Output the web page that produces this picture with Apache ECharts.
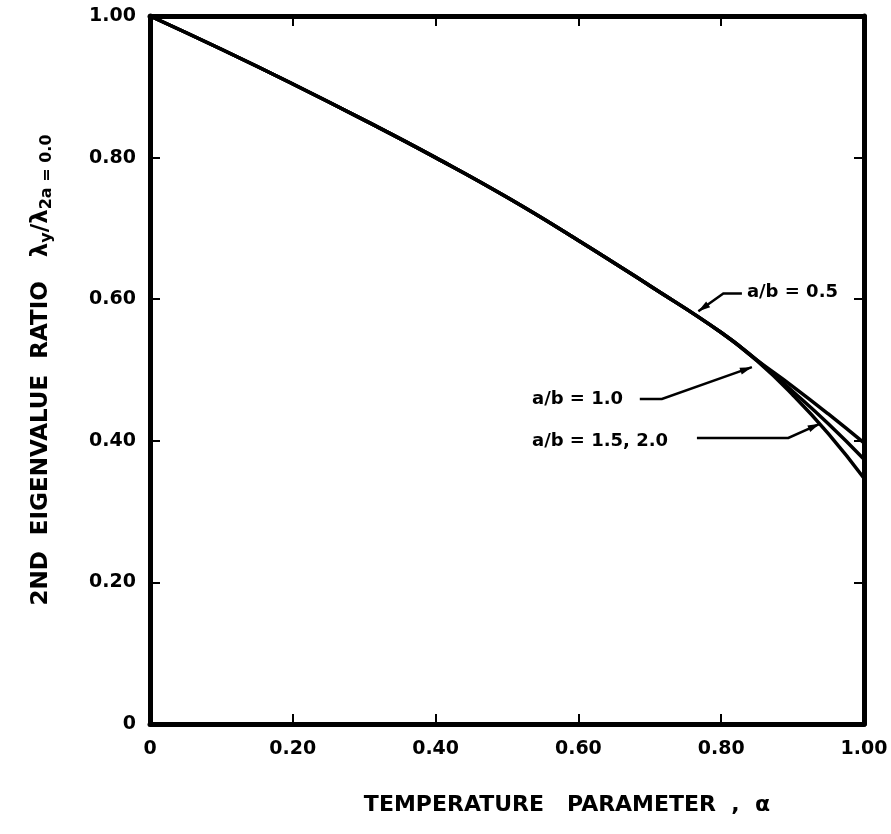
<!DOCTYPE html>
<html lang="en">
<head>
    <meta charset="utf-8">
    <script src="https://cdn.jsdelivr.net/npm/echarts@6/dist/echarts.min.js"></script>
    <style>
        html, body { margin: 0; padding: 0; background: #fff; }
        #main { width: 891px; height: 834px; }
    </style>
</head>
<body>
<div id="main"></div>
<script>
    // temperature parameter a
    var aValues = [0, 0.1, 0.2, 0.3, 0.4, 0.5, 0.6, 0.7, 0.8, 0.85, 0.9, 0.95, 1.0];
    // 2nd eigenvalue ratio for each a/b
    var ratio05 = [1.0, 0.953, 0.904, 0.853, 0.800, 0.744, 0.683, 0.619, 0.553, 0.514, 0.477, 0.438, 0.397];
    var ratio10 = [1.0, 0.953, 0.904, 0.853, 0.800, 0.744, 0.683, 0.619, 0.553, 0.514, 0.470, 0.424, 0.374];
    var ratio15 = [1.0, 0.953, 0.904, 0.853, 0.800, 0.744, 0.683, 0.619, 0.553, 0.513, 0.465, 0.410, 0.347];

    var seriesNames = ['a/b = 0.5', 'a/b = 1.0', 'a/b = 1.5, 2.0'];
    var seriesData = [ratio05, ratio10, ratio15];

    // note labels: text start + leader line (in data coords)
    var notes = [
        { text: 'a/b = 0.5',      at: [0.836, 0.609], leader: [[0.829, 0.608], [0.803, 0.608], [0.768, 0.583]] },
        { text: 'a/b = 1.0',      at: [0.535, 0.459], leader: [[0.686, 0.459], [0.717, 0.459], [0.843, 0.504]] },
        { text: 'a/b = 1.5, 2.0', at: [0.535, 0.399], leader: [[0.766, 0.404], [0.894, 0.404], [0.938, 0.424]] }
    ];

    var FONT = 'DejaVu Sans';

    function tickLabel(v) {
        return v === 0 ? '0' : v.toFixed(2);
    }

    var chart = echarts.init(document.getElementById('main'));

    var baseAxis = {
        type: 'value',
        min: 0,
        max: 1,
        interval: 0.2,
        splitLine: { show: false },
        axisLine: { show: true, onZero: false, lineStyle: { color: '#000', width: 5 } },
        axisTick: { show: true, inside: true, length: 10, lineStyle: { color: '#000', width: 2 } }
    };

    var option = {
        backgroundColor: '#fff',
        animation: false,
        grid: { left: 150, right: 27, top: 16, bottom: 110 }
    };

    option.xAxis = [
        Object.assign({}, baseAxis, {
            position: 'bottom',
            name: 'TEMPERATURE   PARAMETER  ,  α',
            nameLocation: 'middle',
            nameGap: 70,
            nameTextStyle: { fontFamily: FONT, fontWeight: 'bold', fontSize: 22, color: '#000', padding: [0, 0, 0, 120] },
            axisLabel: { margin: 16, fontFamily: FONT, fontWeight: 'bold', fontSize: 19, color: '#000', formatter: tickLabel }
        }),
        Object.assign({}, baseAxis, { position: 'top', axisLabel: { show: false } })
    ];
    option.yAxis = [
        Object.assign({}, baseAxis, {
            position: 'left',
            name: '{t|2ND  EIGENVALUE  RATIO   λ}{s|y}{t|/λ}{s|2a = 0.0}',
            nameLocation: 'middle',
            nameRotate: 90,
            nameGap: 95,
            nameTextStyle: {
                rich: {
                    t: { fontFamily: FONT, fontWeight: 'bold', fontSize: 23, color: '#000' },
                    s: { fontFamily: FONT, fontWeight: 'bold', fontSize: 16, color: '#000', verticalAlign: 'bottom', padding: [12, 0, 0, 0] }
                }
            },
            axisLabel: { margin: 14, fontFamily: FONT, fontWeight: 'bold', fontSize: 19, color: '#000', formatter: tickLabel }
        }),
        Object.assign({}, baseAxis, { position: 'right', axisLabel: { show: false } })
    ];

    option.series = seriesNames.map(function (name, i) {
        return {
            name: name,
            type: 'line',
            smooth: true,
            showSymbol: false,
            z: 3 - i,
            lineStyle: { color: '#000', width: 3.5 },
            data: aValues.map(function (a, j) { return [a, seriesData[i][j]]; })
        };
    });

    chart.setOption(option);

    // annotations drawn after the axes exist
    function px(p) {
        return chart.convertToPixel({ xAxisIndex: 0, yAxisIndex: 0 }, p);
    }
    var graphics = [];
    notes.forEach(function (n) {
        var pos = px(n.at);
        graphics.push({
            type: 'text',
            x: pos[0], y: pos[1],
            style: { text: n.text, fill: '#000', font: 'bold 18px "' + FONT + '"', textVerticalAlign: 'middle' }
        });
        var pts = n.leader.map(px);
        graphics.push({
            type: 'polyline',
            shape: { points: pts },
            style: { stroke: '#000', lineWidth: 2.5, fill: null }
        });
        // arrow head at the last point
        var a = pts[pts.length - 2], b = pts[pts.length - 1];
        var dx = b[0] - a[0], dy = b[1] - a[1];
        var len = Math.sqrt(dx * dx + dy * dy);
        var ux = dx / len, uy = dy / len;
        var bx = b[0] - ux * 12, by = b[1] - uy * 12;
        graphics.push({
            type: 'polygon',
            shape: { points: [b, [bx - uy * 3.5, by + ux * 3.5], [bx + uy * 3.5, by - ux * 3.5]] },
            style: { fill: '#000' }
        });
    });
    chart.setOption({ graphic: graphics });
</script>
</body>
</html>
